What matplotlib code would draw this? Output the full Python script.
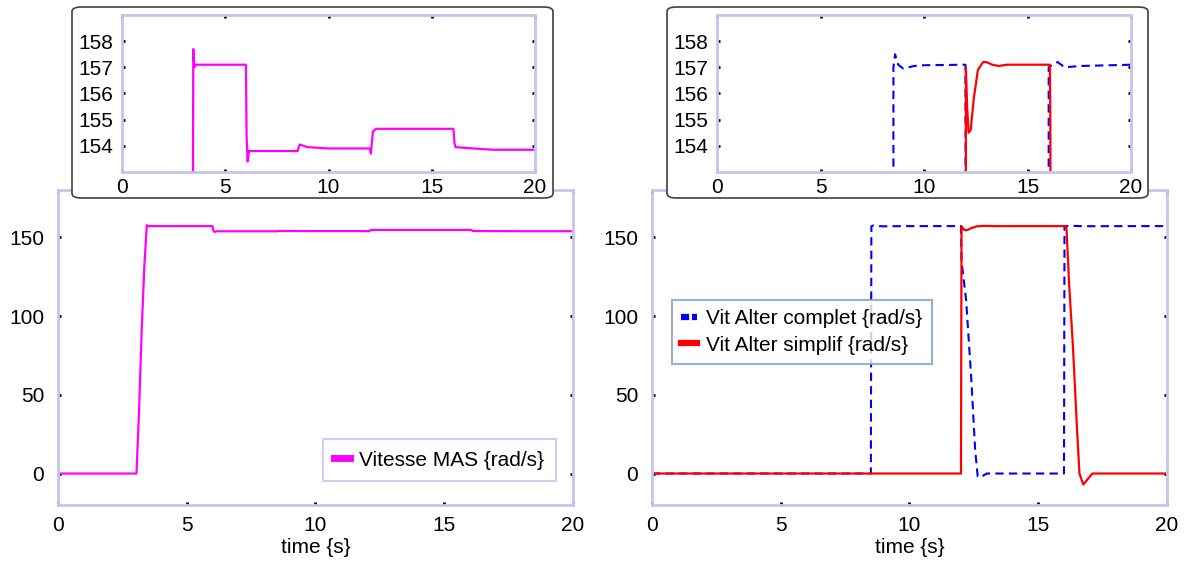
import matplotlib
matplotlib.use('Agg')
import matplotlib.pyplot as plt
from matplotlib.lines import Line2D
from matplotlib.patches import FancyBboxPatch

plt.rcParams['font.family'] = ['Liberation Sans', 'DejaVu Sans']

# --- donnees ---
t_mas = [0, 3.05, 3.15, 3.25, 3.35, 3.45, 3.5, 3.55, 6.0, 6.03, 6.08, 6.15,
         8.5, 8.6, 9.0, 10.0, 12.0, 12.05, 12.15, 12.3, 16.05, 16.1, 16.15,
         17.0, 18.0, 20.0]
v_mas = [0, 0, 40, 90, 130, 157.7, 157.0, 157.1, 157.1, 154.4, 153.4, 153.8,
         153.8, 154.05, 153.95, 153.9, 153.9, 153.7, 154.55, 154.65, 154.65,
         154.1, 153.95, 153.9, 153.85, 153.85]

t_complet = [0, 8.5, 8.52, 8.6, 8.75, 9.0, 9.5, 10, 12.0, 12.02, 12.2, 12.4,
             12.55, 12.65, 12.75, 13.0, 16.0, 16.02, 16.3, 16.45, 16.8, 17.5, 20]
v_complet = [0, 0, 157.0, 157.5, 157.1, 156.95, 157.05, 157.08, 157.1, 135,
             110, 60, 15, -2, -2.5, 0, 0, 157.0, 157.15, 157.2, 157.0, 157.05,
             157.1]

t_simplif = [0, 12.0, 12.02, 12.08, 12.15, 12.25, 12.4, 12.6, 12.85, 13.0,
             13.3, 13.6, 14, 16.08, 16.1, 16.2, 16.35, 16.5, 16.6, 16.75, 16.9,
             17.1, 20]
v_simplif = [0, 0, 157.0, 155.5, 154.5, 154.6, 155.8, 156.9, 157.2, 157.2,
             157.1, 157.05, 157.1, 157.1, 154.8, 120, 80, 30, 0, -7, -4, 0, 0]

x_ticks = [0, 5, 10, 15, 20]
main_yticks = [0, 50, 100, 150]
inset_yticks = [154, 155, 156, 157, 158]

SPINE = '#c4c4f2'
FS = 15


def style_axes(ax):
    for s in ax.spines.values():
        s.set_color(SPINE)
        s.set_linewidth(2)
    ax.tick_params(direction='in', length=2.5, width=2, color='black',
                   top=True, right=True, labelsize=FS)


fig = plt.figure(figsize=(11.85, 5.72), dpi=100)

# axes principaux
ax1 = fig.add_axes([0.0489, 0.1171, 0.4346, 0.5507])
ax2 = fig.add_axes([0.5502, 0.1171, 0.4346, 0.5507])

ax1.plot(t_mas, v_mas, color='#ff00ff', lw=1.6)
ax2.plot(t_complet, v_complet, color='#0000ff', lw=1.5, ls=(0, (4, 2.5)))
ax2.plot(t_simplif, v_simplif, color='#ff0000', lw=1.6)

for ax in (ax1, ax2):
    style_axes(ax)
    ax.set_xlim(0, 20)
    ax.set_ylim(-20, 180)
    ax.set_xticks(x_ticks)
    ax.set_yticks(main_yticks)
    ax.tick_params(axis='x', pad=8)
    ax.tick_params(axis='y', pad=10)
    ax.set_xlabel('time {s}', fontsize=FS, labelpad=2)

leg1 = ax1.legend([Line2D([], [], color='#ff00ff', lw=5)],
                  ['Vitesse MAS {rad/s}'], loc='lower right',
                  bbox_to_anchor=(0.967, 0.076), borderaxespad=0,
                  fancybox=False, fontsize=FS, handlelength=0.75,
                  handletextpad=0.45, borderpad=0.55)
leg1.get_frame().set_edgecolor(SPINE)
leg1.get_frame().set_linewidth(1.5)

leg2 = ax2.legend([Line2D([], [], color='#0000ff', lw=4.5, ls=(0, (1.3, 0.45))),
                   Line2D([], [], color='#ff0000', lw=4.5)],
                  ['Vit Alter complet {rad/s}', 'Vit Alter simplif {rad/s}'],
                  loc='upper left', bbox_to_anchor=(0.039, 0.651),
                  borderaxespad=0, fancybox=False, fontsize=FS,
                  handlelength=0.75, handletextpad=0.45, borderpad=0.45,
                  labelspacing=0.35)
leg2.get_frame().set_edgecolor('#7d9ec0')
leg2.get_frame().set_linewidth(1.5)

# cadres arrondis des zooms
W, H = 1185, 572
for x0, x1 in [(72, 553), (667, 1148)]:
    box = FancyBboxPatch((x0 / W, 1 - 198 / H), (x1 - x0) / W, 191 / H,
                         boxstyle='round,pad=0,rounding_size=0.008',
                         transform=fig.transFigure, facecolor='white',
                         edgecolor='#404040', lw=1.2, zorder=1)
    fig.patches.append(box)

# zooms
in1 = fig.add_axes([0.1030, 0.6993, 0.3485, 0.2745], zorder=2)
in2 = fig.add_axes([0.6051, 0.6993, 0.3494, 0.2745], zorder=2)

in1.plot(t_mas, v_mas, color='#ff00ff', lw=1.6)
in2.plot(t_complet, v_complet, color='#0000ff', lw=1.5, ls=(0, (4, 2.5)))
in2.plot(t_simplif, v_simplif, color='#ff0000', lw=1.6)

for ax in (in1, in2):
    style_axes(ax)
    ax.set_xlim(0, 20)
    ax.set_ylim(153, 159)
    ax.set_xticks(x_ticks)
    ax.set_yticks(inset_yticks)
    ax.tick_params(axis='x', pad=4)
    ax.tick_params(axis='y', pad=6)

fig.savefig('out.png', dpi=100)
